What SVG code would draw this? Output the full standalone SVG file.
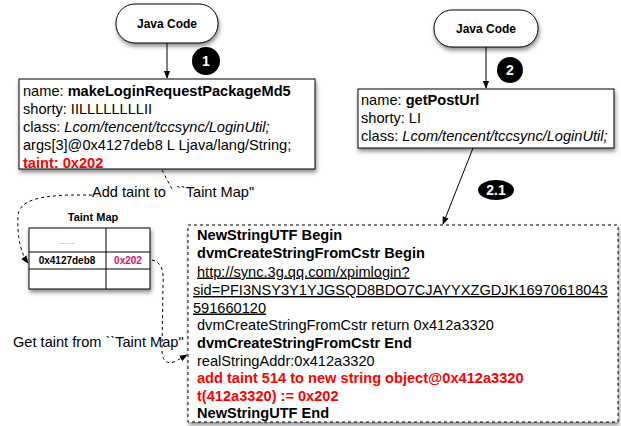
<svg xmlns="http://www.w3.org/2000/svg" width="621" height="426" viewBox="0 0 621 426">
<style>
text{font-family:"Liberation Sans",Arial,sans-serif;fill:#000}
.t{font-size:14.6px}
.b{font-weight:bold}
.i{font-style:italic}
.red{fill:#ff0000;font-weight:bold}
.box{fill:#fff;stroke:#000;stroke-width:1}
.dash{fill:none;stroke:#000;stroke-width:1;stroke-dasharray:3,3}
.line{fill:none;stroke:#000;stroke-width:1}
.badge{fill:#000}
.bt{fill:#fff;font-weight:bold;font-size:14px;text-anchor:middle}
.jc{font-size:12px;font-weight:bold;text-anchor:middle}
</style>
<defs>
<filter id="sh" x="-10%" y="-10%" width="130%" height="140%">
<feDropShadow dx="1" dy="3" stdDeviation="2" flood-color="#000" flood-opacity="0.45"/>
</filter>
<marker id="ah" viewBox="0 0 10 10" refX="9" refY="5" markerWidth="8" markerHeight="8" orient="auto" markerUnits="userSpaceOnUse">
<path d="M0,1 L10,5 L0,9 z" fill="#000"/>
</marker>
</defs>

<g id="java1">
<rect class="box" x="116" y="4" width="102" height="39" rx="19" filter="url(#sh)"/>
<text class="jc" x="167" y="28">Java Code</text>
</g>

<g id="java2">
<rect class="box" x="434" y="10" width="104" height="37" rx="18" filter="url(#sh)"/>
<text class="jc" x="486" y="33">Java Code</text>
</g>

<g id="method1">
<rect class="box" x="19" y="79" width="296" height="90" filter="url(#sh)"/>
<text class="t" x="23" y="96">name: <tspan class="b">makeLoginRequestPackageMd5</tspan></text>
<text class="t" x="23" y="114">shorty: IILLLLLLLLII</text>
<text class="t" x="23" y="132">class: <tspan class="i">Lcom/tencent/tccsync/LoginUtil;</tspan></text>
<text class="t" x="23" y="150">args[3]@0x4127deb8 L Ljava/lang/String;</text>
<text class="t red" x="23" y="167.5">taint: 0x202</text>
</g>

<g id="method2">
<rect class="box" x="358" y="89" width="256" height="59" filter="url(#sh)"/>
<text class="t" x="361" y="105">name: <tspan class="b">getPostUrl</tspan></text>
<text class="t" x="361" y="123">shorty: LI</text>
<text class="t" x="361" y="141">class: <tspan class="i">Lcom/tencent/tccsync/LoginUtil;</tspan></text>
</g>

<g id="taintmap">
<text x="93" y="221" font-size="11" font-weight="bold" text-anchor="middle">Taint Map</text>
<rect class="box" x="29" y="228" width="121" height="61" filter="url(#sh)"/>
<line class="line" x1="29" y1="252" x2="150" y2="252"/>
<line class="line" x1="29" y1="269" x2="150" y2="269"/>
<line class="line" x1="106" y1="228" x2="106" y2="289"/>
<text x="67" y="244" font-size="9" text-anchor="middle" style="fill:#888">......</text>
<text x="67" y="264" font-size="10" font-weight="bold" text-anchor="middle">0x4127deb8</text>
<text x="128" y="264" font-size="10" font-weight="bold" text-anchor="middle" style="fill:#dd1166">0x202</text>
</g>

<g id="log">
<rect class="box" x="188" y="225" width="430" height="197" filter="url(#sh)" stroke-dasharray="3,3"/>
<text class="t b" x="197" y="240">NewStringUTF Begin</text>
<text class="t b" x="197" y="258">dvmCreateStringFromCstr Begin</text>
<text class="t" x="197" y="276.5" text-decoration="underline">http://sync.3g.qq.com/xpimlogin?</text>
<text class="t" x="193" y="295" text-decoration="underline">sid=PFI3NSY3Y1YJGSQD8BDO7CJAYYXZGDJK16970618043</text>
<text class="t" x="193" y="312.5" text-decoration="underline">591660120</text>
<text class="t" x="197" y="330">dvmCreateStringFromCstr return 0x412a3320</text>
<text class="t b" x="197" y="347.5">dvmCreateStringFromCstr End</text>
<text class="t" x="197" y="365.5">realStringAddr:0x412a3320</text>
<text class="t red" x="197" y="383">add taint 514 to new string object@0x412a3320</text>
<text class="t red" x="197" y="400.5">t(412a3320) := 0x202</text>
<text class="t b" x="197" y="418">NewStringUTF End</text>
</g>

<g id="connectors">
<line class="line" x1="167" y1="43" x2="167" y2="78" marker-end="url(#ah)"/>
<line class="line" x1="486" y1="47" x2="486" y2="88" marker-end="url(#ah)"/>
<line class="line" x1="473" y1="148" x2="443" y2="224" marker-end="url(#ah)"/>
<path class="dash" d="M162,170 C166,178 170,185 173,191 M92,195 L70,195 C40,196 20,200 18,215 C17,235 20,252 28,263" marker-end="url(#ah)"/>
<text x="92" y="197" font-size="14.6">Add taint to</text>
<text x="176" y="197" font-size="14.6">``Taint Map"</text>
<path class="dash" d="M152,260 C162,262 164,272 163,285 L162,350 C162,362 168,365 176,361 L187,355" marker-end="url(#ah)"/>
<text x="13" y="347" font-size="14.6">Get taint from ``Taint Map"</text>
</g>

<g id="badge1">
<circle class="badge" cx="206" cy="61" r="14"/>
<text class="bt" x="206" y="66">1</text>
</g>
<g id="badge2">
<circle class="badge" cx="510" cy="70" r="13"/>
<text class="bt" x="510" y="75">2</text>
</g>
<g id="badge21">
<ellipse class="badge" cx="496" cy="190" rx="18" ry="10"/>
<text class="bt" x="496" y="195">2.1</text>
</g>
</svg>
